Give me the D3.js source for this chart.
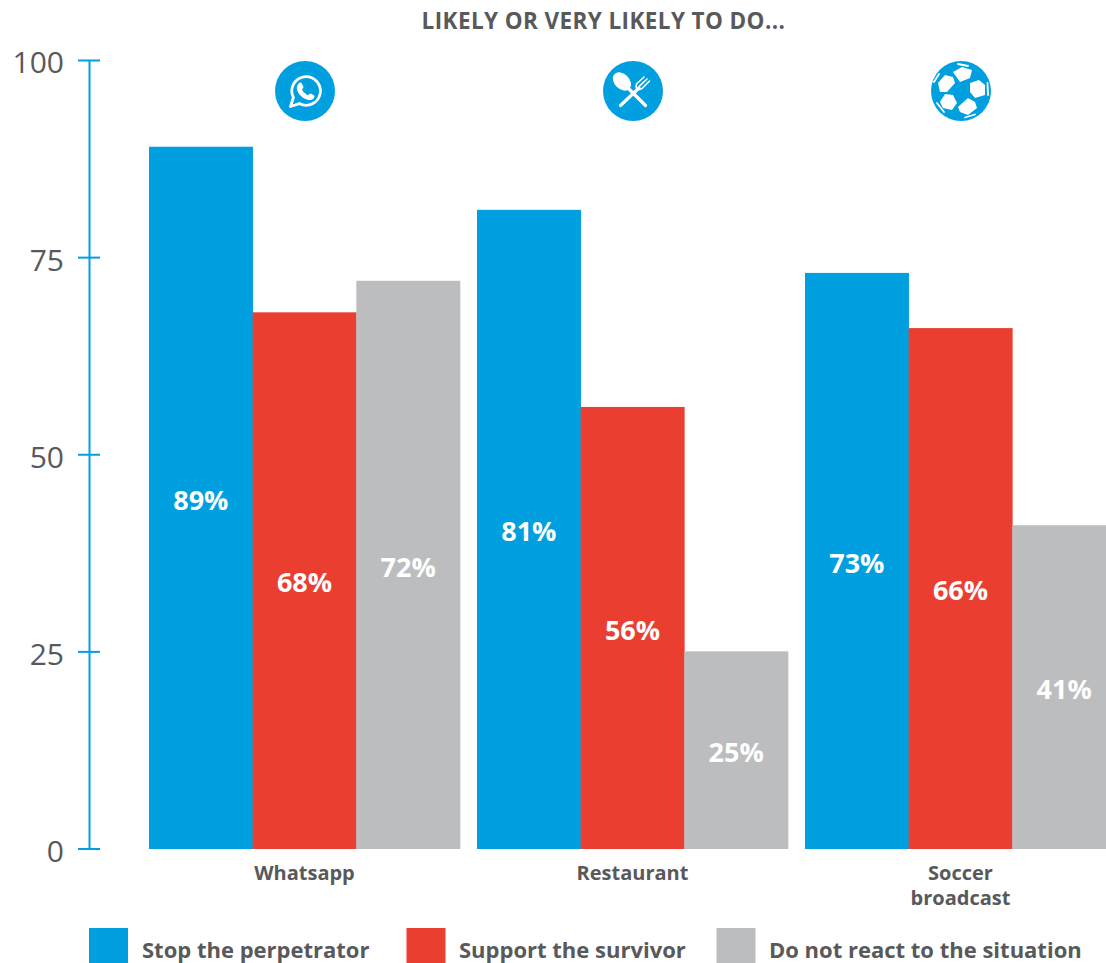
<!DOCTYPE html>
<html><head><meta charset="utf-8">
<script src="https://cdn.jsdelivr.net/npm/d3@7/dist/d3.min.js"></script>
<style>
html,body{margin:0;padding:0;background:#fff;overflow:hidden}
svg{display:block}
text{font-family:"Open Sans",sans-serif}
</style></head><body>
<svg id="chart" width="1106" height="963"></svg>
<script>
const categories = ["Whatsapp", "Restaurant", "Soccer broadcast"];
const seriesNames = ["Stop the perpetrator", "Support the survivor", "Do not react to the situation"];
const stopValues = [89, 81, 73];
const supportValues = [68, 56, 66];
const noReactionValues = [72, 25, 41];
const seriesColors = ["#009fdf", "#e93e30", "#bcbdbf"];
const yTicks = [0, 25, 50, 75, 100];
const title = "LIKELY OR VERY LIKELY TO DO...";
const categoryLines = [["Whatsapp"], ["Restaurant"], ["Soccer", "broadcast"]];
const series = [stopValues, supportValues, noReactionValues];

const svg = d3.select("#chart");
const BLUE = seriesColors[0], INK = "#58595b";

const y = d3.scaleLinear().domain([0, 100]).range([848.5, 60]);
const x0 = d3.scaleBand().domain(categories).range([149, 1116]).paddingInner(17 / 328).paddingOuter(0);
const x1 = d3.scaleBand().domain(d3.range(3)).range([0, x0.bandwidth()]);

svg.append("text").attr("x", 603.5).attr("y", 29).attr("text-anchor", "middle")
  .attr("font-size", 22.5).attr("font-weight", 700).attr("fill", INK).attr("letter-spacing", 0.4).text(title);

// value axis
const axis = svg.append("g").attr("transform", "translate(89,0)")
  .call(d3.axisLeft(y).tickValues(yTicks).tickSize(11).tickSizeOuter(0).tickPadding(14));
axis.select(".domain").attr("stroke", BLUE).attr("stroke-width", 2);
axis.selectAll(".tick line").attr("x1", -11).attr("x2", 11).attr("stroke", BLUE).attr("stroke-width", 2);
axis.selectAll(".tick text").attr("font-family", '"Open Sans",sans-serif').attr("font-size", 30)
  .attr("fill", INK).attr("x", -25).attr("dy", "0.43em");

// bars and their value labels
const groups = svg.selectAll("g.group").data(categories).join("g").attr("class", "group")
  .attr("transform", d => `translate(${x0(d)},0)`);
groups.each(function (cat, ci) {
  const g = d3.select(this);
  series.forEach((vals, si) => {
    const v = vals[ci];
    g.append("rect").attr("x", x1(si)).attr("y", y(v)).attr("width", x1.bandwidth() + 0.3)
      .attr("height", 849 - y(v)).attr("fill", seriesColors[si]);
    g.append("text").attr("x", x1(si) + x1.bandwidth() / 2).attr("y", y(v / 2) + 12)
      .attr("text-anchor", "middle").attr("font-size", 27).attr("font-weight", 700)
      .attr("fill", "#fff").text(v + "%");
  });
  const lines = categoryLines[ci];
  lines.forEach((t, i) => {
    g.append("text").attr("x", x0.bandwidth() / 2).attr("y", 880 + i * 25)
      .attr("text-anchor", "middle").attr("font-size", 20).attr("font-weight", 700)
      .attr("fill", INK).text(t);
  });
});

// legend
const legendX = [89, 406.5, 716.5], legendTextX = [142, 459, 769];
seriesNames.forEach((name, i) => {
  svg.append("rect").attr("x", legendX[i]).attr("y", 928).attr("width", 39).attr("height", 35).attr("fill", seriesColors[i]);
  svg.append("text").attr("x", legendTextX[i]).attr("y", 958).attr("font-size", 22).attr("font-weight", 700)
    .attr("fill", INK).text(name);
});

// category icons above each group
const iconCenters = categories.map(c => x0(c) + x0.bandwidth() / 2);
const icon = i => svg.append("g").attr("transform", `translate(${iconCenters[i] + 0.5},91)`);

const chat = icon(0);
chat.append("circle").attr("r", 30).attr("fill", BLUE);
chat.append("path").attr("fill", "none").attr("stroke", "#fff").attr("stroke-width", 2.8).attr("stroke-linejoin", "round")
  .attr("d", "M-14.5 15.5 L-11.6 6.5 A14.3 14.3 0 1 1 -5.6 12.6 Z");
chat.append("path").attr("fill", "#fff")
  .attr("d", "M-6.3 -7.6 C-5 -9 -3.8 -8.6 -3.2 -7.5 L-1.6 -4.3 C-1.2 -3.5 -2.6 -2.2 -3 -1.5 C-1.8 1.2 0.8 3.3 3 4.2 C3.8 3.7 4.8 2.2 5.6 2.5 L9 4.2 C9.7 4.6 9.7 6 8.8 7.2 C7.5 9 4.6 9.6 1.8 8.5 C-3 6.7 -6.8 2.8 -8 -1.6 C-8.6 -3.9 -7.8 -6 -6.3 -7.6 Z");

const cutlery = icon(1);
cutlery.append("circle").attr("r", 30).attr("fill", BLUE);
cutlery.append("ellipse").attr("cx", -11).attr("cy", -9.5).attr("rx", 10.5).attr("ry", 7.5)
  .attr("transform", "rotate(45 -11 -9.5)").attr("fill", "#fff");
cutlery.append("path").attr("stroke", "#fff").attr("stroke-width", 3.2).attr("stroke-linecap", "round").attr("fill", "none")
  .attr("d", "M-6 -4 L12.5 14.5 M6 -3 L-12.5 14.5");
cutlery.append("path").attr("stroke", "#fff").attr("stroke-width", 1.6).attr("stroke-linecap", "round").attr("fill", "none")
  .attr("d", "M3.5 -7 L11 -14 M6.2 -4.6 L14 -12 M9 -2.5 L16.5 -10 M3.5 -7 C2.5 -3 3.5 -1.5 6 -3 M9 -2.5 C6.5 -1 5 -1.5 6 -3");

const ball = icon(2);
ball.append("circle").attr("r", 30).attr("fill", BLUE);
const panels = [
  "M-8 -19 L1 -24 L11 -21 L9 -13 L-1 -9 Z",
  "M-23 -8 L-16 -16 L-8 -14 L-6 -8 L-14 1 L-21 1 Z",
  "M9 -8 L18 -11 L24 -6 L24 4 L14 7 L9 1 Z",
  "M-21 11 L-16 3 L-8 4 L-4 12 L-9 19 L-18 17 Z",
  "M-3 16 L7 7 L14 11 L16 17 L7 24 L-1 21 Z"
];
ball.selectAll("path.panel").data(panels).join("path").attr("class", "panel").attr("fill", "#fff").attr("d", d => d);
ball.append("path").attr("fill", "none").attr("stroke", "#fff").attr("stroke-width", 1.8).attr("stroke-linecap", "round")
  .attr("d", "M-3 -27 L7 -25 M-27 -9 L-22 -17 M26.5 -8 L27 4 M-24 12 L-17 21 M4 26.5 L14 23.5");
</script>
</body></html>
